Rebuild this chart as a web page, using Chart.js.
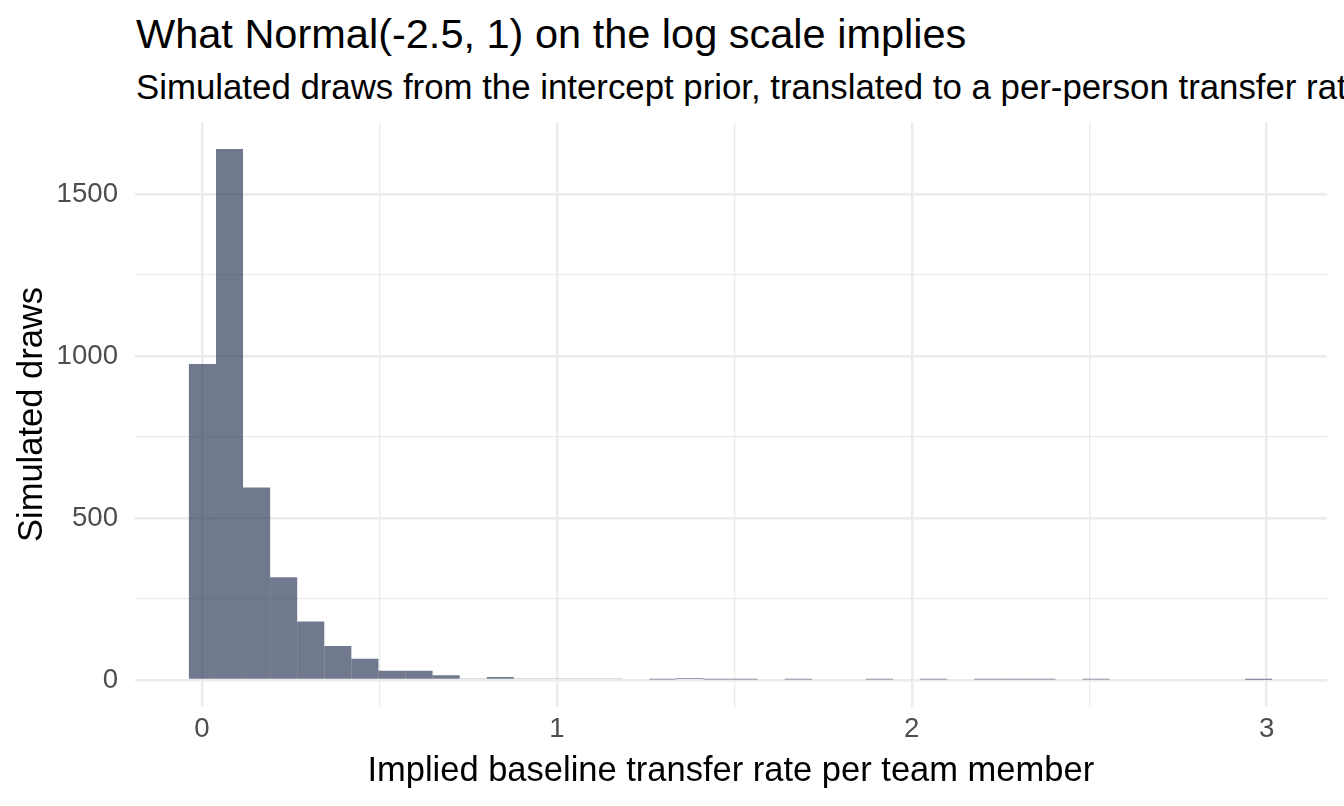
<!DOCTYPE html>
<html>
<head>
<meta charset="utf-8">
<script src="https://cdn.jsdelivr.net/npm/chart.js@4.4.1/dist/chart.umd.min.js"></script>
<style>
  html, body { margin: 0; padding: 0; background: #fff; }
  #wrap { position: relative; width: 1344px; height: 806px; overflow: hidden; font-family: "Liberation Sans", Arial, sans-serif; }
  #title { position: absolute; left: 136px; top: 13px; font-size: 41.5px; line-height: 1; color: #000; white-space: nowrap; }
  #subtitle { position: absolute; left: 136px; top: 70px; font-size: 34.8px; line-height: 1; color: #000; white-space: nowrap; }
  canvas { position: absolute; left: 0; top: 0; }
</style>
</head>
<body>
<div id="wrap">
  <div id="title">What Normal(-2.5, 1) on the log scale implies</div>
  <div id="subtitle">Simulated draws from the intercept prior, translated to a per-person transfer rate</div>
  <canvas id="chart" width="1344" height="806"></canvas>
</div>
<script>
// histogram bins (40 bins)
const firstBinCenter = 0.0014;
const binWidth = 0.0763;
const counts = [
  975, 1639, 594, 317, 181, 105, 66, 29, 29, 15,
  5, 9, 5, 3, 5, 3, 0, 2, 6, 2,
  2, 0, 2, 0, 0, 2, 0, 2, 0, 2,
  2, 2, 0, 2, 0, 0, 0, 0, 0, 1
];
const xTicks = [0, 1, 2, 3];
const xMinor = [0.5, 1.5, 2.5];
const yTicks = [0, 500, 1000, 1500];
const yMinor = [250, 750, 1250];

const binCenters = counts.map((c, i) => firstBinCenter + i * binWidth);
const points = counts.map((c, i) => ({ x: binCenters[i], y: c }));

const tickFont = { family: "Liberation Sans", size: 27.6 };
const titleFont = { family: "Liberation Sans", size: 34.5 };

function isMajor(list, ctx) { return !!ctx.tick && list.includes(ctx.tick.value); }
function setTicks(major, minor) {
  return s => { s.ticks = major.concat(minor).sort((a, b) => a - b).map(v => ({ value: v })); };
}

new Chart(document.getElementById("chart"), {
  type: "bar",
  data: {
    datasets: [{
      data: points,
      backgroundColor: "rgba(35, 49, 80, 0.65)",
      borderWidth: 0,
      inflateAmount: 0,
      barPercentage: 1,
      categoryPercentage: 1
    }]
  },
  options: {
    responsive: false,
    animation: false,
    layout: { padding: { left: 0, right: 17, top: 122.4, bottom: 0 } },
    plugins: { legend: { display: false }, tooltip: { enabled: false } },
    scales: {
      x: {
        type: "linear",
        min: -0.19,
        max: 3.17,
        offset: false,
        border: { display: false },
        grid: {
          offset: false,
          drawTicks: false,
          color: "#ebebeb",
          lineWidth: ctx => isMajor(xTicks, ctx) ? 2.5 : 1.3
        },
        afterBuildTicks: setTicks(xTicks, xMinor),
        ticks: {
          autoSkip: false,
          maxRotation: 0,
          padding: 6,
          color: "#4d4d4d",
          font: tickFont,
          callback: v => xTicks.includes(v) ? String(v) : ""
        },
        title: {
          display: true,
          text: "Implied baseline transfer rate per team member",
          color: "#000",
          font: titleFont,
          padding: { top: 0, bottom: 14 }
        },
        afterFit: s => { s.height = 99.4; }
      },
      y: {
        min: -82,
        max: 1721,
        border: { display: false },
        grid: {
          drawTicks: false,
          color: "#ebebeb",
          lineWidth: ctx => isMajor(yTicks, ctx) ? 2.5 : 1.3
        },
        afterBuildTicks: setTicks(yTicks, yMinor),
        ticks: {
          autoSkip: false,
          padding: 16.5,
          color: "#4d4d4d",
          font: tickFont,
          callback: v => yTicks.includes(v) ? String(v) : ""
        },
        title: {
          display: true,
          text: "Simulated draws",
          color: "#000",
          font: titleFont,
          padding: { top: 12, bottom: 0 }
        },
        afterFit: s => { s.width = 134.5; }
      }
    }
  }
});
</script>
</body>
</html>
